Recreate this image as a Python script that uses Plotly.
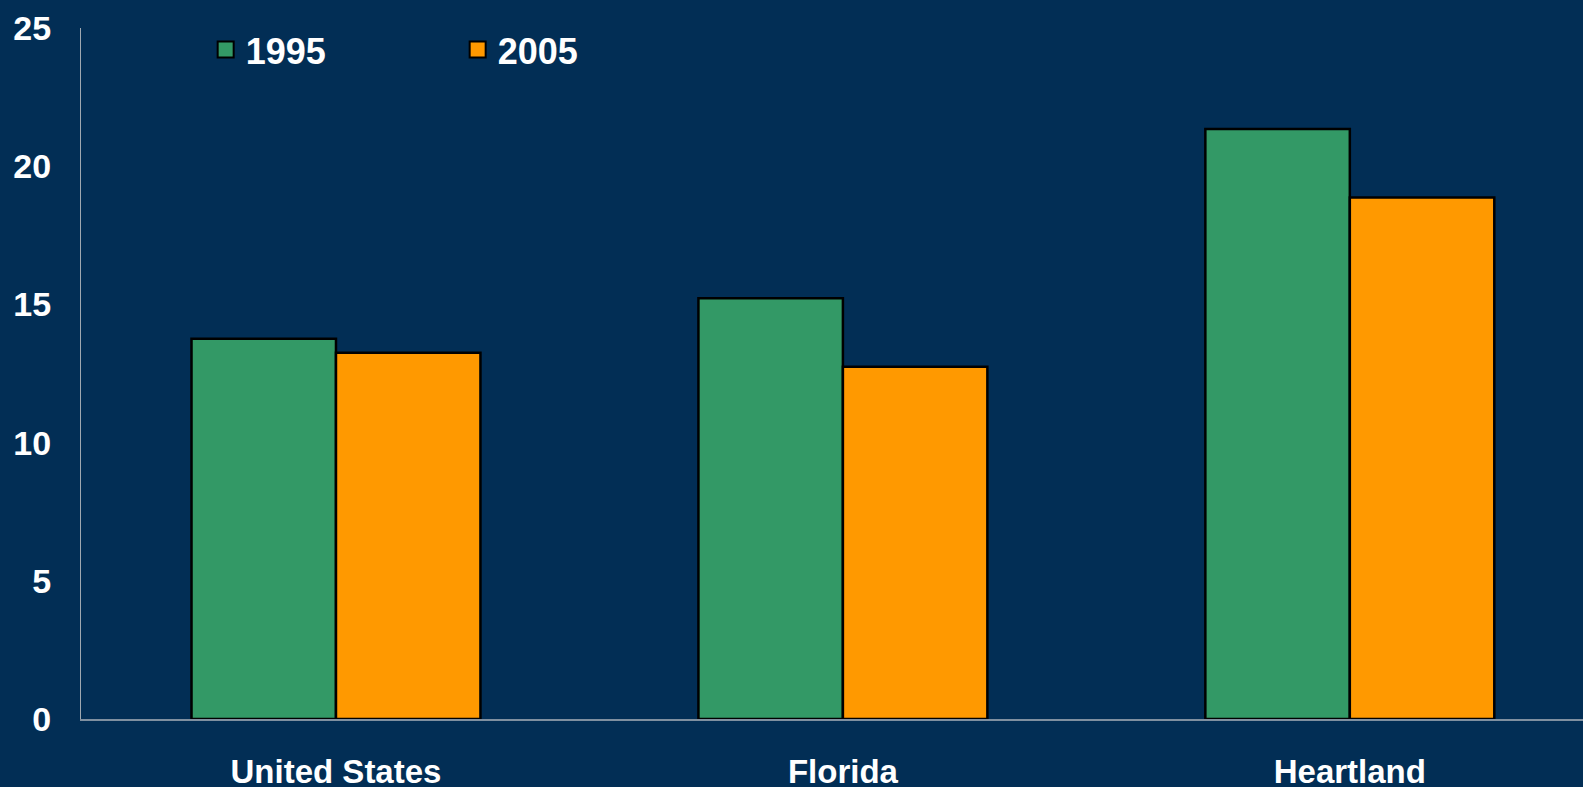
import plotly.graph_objects as go

categories = ["United States", "Florida", "Heartland"]
values_1995 = [13.76, 15.22, 21.35]
values_2005 = [13.25, 12.74, 18.87]
y_ticks = [0, 5, 10, 15, 20, 25]

BG = "#022E55"
GREEN = "#339966"
ORANGE = "#FF9900"
FONT = "Liberation Sans, Arial, sans-serif"

fig = go.Figure()
fig.add_trace(go.Bar(name="1995", x=categories, y=values_1995, showlegend=False,
                     marker=dict(color=GREEN, line=dict(color="black", width=2.5))))
fig.add_trace(go.Bar(name="2005", x=categories, y=values_2005, showlegend=False,
                     marker=dict(color=ORANGE, line=dict(color="black", width=2.5))))
# legend entries
for name, col in [("1995", GREEN), ("2005", ORANGE)]:
    fig.add_trace(go.Scatter(name=name, x=[None], y=[None], mode="markers",
                             marker=dict(symbol="square", size=16, color=col,
                                         line=dict(color="black", width=2))))

fig.update_layout(
    width=1583, height=787,
    paper_bgcolor=BG, plot_bgcolor=BG,
    margin=dict(l=81, r=0, t=28, b=68, autoexpand=False),
    barmode="group", bargap=0.43, bargroupgap=0,
    font=dict(family=FONT, color="white", size=28),
    showlegend=True,
    legend=dict(orientation="h", x=0.083, y=1.012, xanchor="left", yanchor="top",
                bgcolor="rgba(0,0,0,0)",
                font=dict(family=FONT, size=36, color="white", weight="bold"),
                entrywidth=207, entrywidthmode="pixels", itemwidth=30),
    xaxis=dict(range=[-0.503, 2.46], showgrid=False, showline=True,
               linecolor="#8090A0", linewidth=1.5, ticks="", automargin=False,
               tickfont=dict(family=FONT, size=33, color="white", weight="bold"),
               ticklabelstandoff=23, zeroline=False),
    yaxis=dict(range=[0, 25], tickvals=y_ticks, showgrid=False, showline=True,
               linecolor="#A0A8B0", linewidth=1, ticks="", zeroline=False,
               automargin=False,
               tickfont=dict(family=FONT, size=34, color="white", weight="bold"),
               ticklabelstandoff=22),
)

fig.write_html("out.html", config={"displayModeBar": False},
               post_script="document.body.style.margin='0';document.documentElement.style.overflow='hidden';")
